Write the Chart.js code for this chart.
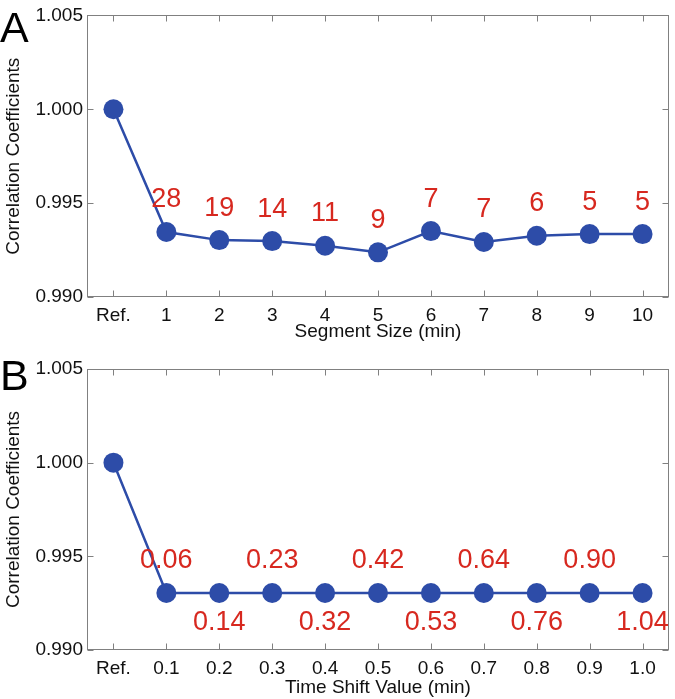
<!DOCTYPE html>
<html>
<head>
<meta charset="utf-8">
<script src="https://cdn.jsdelivr.net/npm/chart.js@4/dist/chart.umd.min.js"></script>
<style>
  html, body { margin: 0; padding: 0; background: #ffffff; }
  #wrap { position: relative; width: 675px; height: 699px; overflow: hidden; }
  .panel { position: absolute; left: 0; width: 675px; }
</style>
</head>
<body>
<div id="wrap">
  <div class="panel" style="top:0px;height:344px;"><canvas id="chartA" width="675" height="344"></canvas></div>
  <div class="panel" style="top:344px;height:355px;"><canvas id="chartB" width="675" height="355"></canvas></div>
</div>
<script>
// ---- Data ----
const segmentCategories = ['Ref.', '1', '2', '3', '4', '5', '6', '7', '8', '9', '10'];
const segmentValues = [1.0000, 0.99346, 0.99303, 0.99298, 0.99273, 0.99238, 0.99351, 0.99293, 0.99326, 0.99335, 0.99335];
const segmentCounts = ['', '28', '19', '14', '11', '9', '7', '7', '6', '5', '5'];

const shiftCategories = ['Ref.', '0.1', '0.2', '0.3', '0.4', '0.5', '0.6', '0.7', '0.8', '0.9', '1.0'];
const shiftValues = [1.0000, 0.99304, 0.99304, 0.99304, 0.99304, 0.99304, 0.99304, 0.99304, 0.99304, 0.99304, 0.99304];
const shiftAnnotations = ['', '0.06', '0.14', '0.23', '0.32', '0.42', '0.53', '0.64', '0.76', '0.90', '1.04'];

const yTickValues = [0.990, 0.995, 1.000, 1.005];
const yAxisTitle = 'Correlation Coefficients';
const panelATitle = 'Segment Size (min)';
const panelBTitle = 'Time Shift Value (min)';

// ---- Styling ----
const FONT = "'Liberation Sans', Arial, Helvetica, sans-serif";
const BLUE = '#2d4ca8';
const RED = '#d7281f';
const AXIS_GRAY = '#808080';

Chart.defaults.font.family = FONT;
Chart.defaults.color = '#111111';

const frameAndTicks = {
  id: 'frameAndTicks',
  beforeDatasetsDraw(chart) {
    const { ctx, chartArea: a, scales } = chart;
    const L = Math.round(a.left) + 0.5, R = Math.round(a.right) - 0.5;
    const T = Math.round(a.top) + 0.5, B = Math.round(a.bottom) - 0.5;
    const len = 6;
    ctx.save();
    ctx.strokeStyle = AXIS_GRAY;
    ctx.lineWidth = 1;
    ctx.strokeRect(L, T, R - L, B - T);
    ctx.beginPath();
    const xs = scales.x;
    for (let i = 0; i < xs.ticks.length; i++) {
      const px = Math.round(xs.getPixelForTick(i)) + 0.5;
      ctx.moveTo(px, B); ctx.lineTo(px, B - len);
      ctx.moveTo(px, T); ctx.lineTo(px, T + len);
    }
    const ys = scales.y;
    yTickValues.forEach(v => {
      const py = Math.round(ys.getPixelForValue(v)) + 0.5;
      ctx.moveTo(L, py); ctx.lineTo(L + len, py);
      ctx.moveTo(R, py); ctx.lineTo(R - len, py);
    });
    ctx.stroke();
    ctx.restore();
  }
};

const pointText = {
  id: 'pointText',
  afterDatasetsDraw(chart, args, opts) {
    const { ctx } = chart;
    const meta = chart.getDatasetMeta(0);
    ctx.save();
    ctx.fillStyle = RED;
    ctx.font = '27px ' + FONT;
    ctx.textAlign = 'center';
    ctx.textBaseline = 'middle';
    opts.texts.forEach((t, i) => {
      if (!t) return;
      const el = meta.data[i];
      let dy;
      if (opts.mode === 'alternate') dy = (i % 2 === 1) ? -33 : 29;
      else dy = -32;
      ctx.fillText(t, el.x, el.y + dy);
    });
    // panel letter
    ctx.fillStyle = '#000000';
    ctx.font = '43px ' + FONT;
    ctx.textAlign = 'left';
    ctx.textBaseline = 'alphabetic';
    ctx.fillText(opts.letter, opts.letterX, opts.letterY);
    ctx.restore();
  }
};

function makeChart(id, categories, values, texts, xTitle, mode, letter, letterY, padTop, padBottom, xHeight) {
  return new Chart(document.getElementById(id), {
    type: 'line',
    data: {
      labels: categories,
      datasets: [{
        data: values,
        borderColor: BLUE,
        backgroundColor: BLUE,
        borderWidth: 2.5,
        pointRadius: 10,
        pointHoverRadius: 10,
        pointBorderWidth: 0,
        pointBackgroundColor: BLUE,
        tension: 0,
        clip: false
      }]
    },
    options: {
      responsive: false,
      animation: false,
      devicePixelRatio: 1,
      events: [],
      layout: { autoPadding: false, padding: { top: padTop, right: 6, bottom: padBottom, left: 0 } },
      plugins: {
        legend: { display: false },
        tooltip: { enabled: false },
        pointText: { texts: texts, mode: mode, letter: letter, letterX: 0, letterY: letterY }
      },
      scales: {
        x: {
          type: 'category',
          offset: true,
          grid: { display: false, drawTicks: false },
          border: { display: false },
          ticks: { color: '#111111', font: { size: 19 }, padding: 7, maxRotation: 0, autoSkip: false },
          title: { display: true, text: xTitle, color: '#111111', font: { size: 19 }, padding: { top: 0, bottom: 0 } },
          afterFit(s) { s.height = xHeight; s.paddingLeft = 0; s.paddingRight = 0; }
        },
        y: {
          min: 0.990,
          max: 1.005,
          grid: { display: false, drawTicks: false },
          border: { display: false },
          afterBuildTicks(s) { s.ticks = yTickValues.map(v => ({ value: v })); },
          ticks: { color: '#111111', font: { size: 19 }, padding: 4, callback: v => Number(v).toFixed(3) },
          title: { display: true, text: yAxisTitle, color: '#111111', font: { size: 19 }, padding: { top: 2, bottom: 0 } },
          afterFit(s) { s.width = 87; }
        }
      }
    },
    plugins: [frameAndTicks, pointText]
  });
}

makeChart('chartA', segmentCategories, segmentValues, segmentCounts, panelATitle, 'above', 'A', 42, 15, 1, 46);
makeChart('chartB', shiftCategories, shiftValues, shiftAnnotations, panelBTitle, 'alternate', 'B', 46, 25, 0, 49);
</script>
</body>
</html>
